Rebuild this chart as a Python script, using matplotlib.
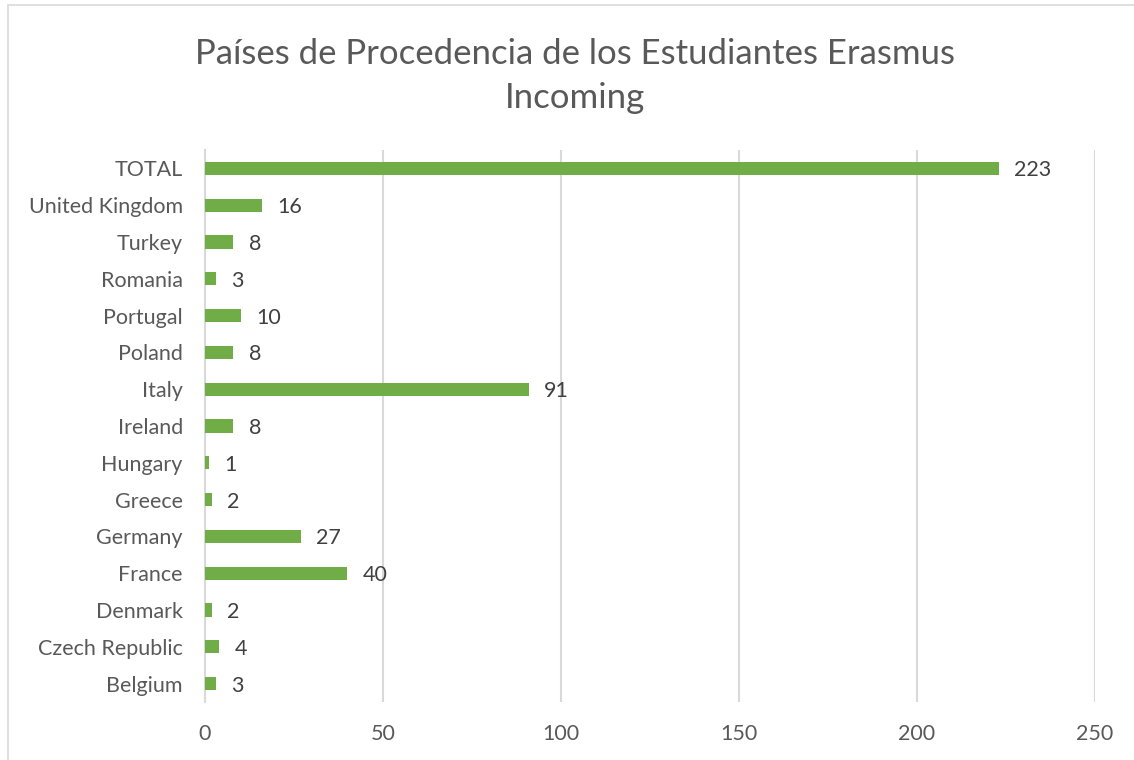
import matplotlib.pyplot as plt
from matplotlib.patches import Rectangle

# Data
countries = ['Belgium', 'Czech Republic', 'Denmark', 'France', 'Germany', 'Greece',
             'Hungary', 'Ireland', 'Italy', 'Poland', 'Portugal', 'Romania',
             'Turkey', 'United Kingdom', 'TOTAL']
students = [3, 4, 2, 40, 27, 2, 1, 8, 91, 8, 10, 3, 8, 16, 223]
xticks = [0, 50, 100, 150, 200, 250]

plt.rcParams['font.family'] = ['Lato', 'DejaVu Sans']

fig = plt.figure(figsize=(11.34, 7.6), dpi=100)
ax = fig.add_axes([205/1134, 1 - 702/760, 890/1134, 552/760])

ypos = range(len(countries))
ax.barh(ypos, students, height=0.36, color='#70AD47', zorder=3)
for y, v in zip(ypos, students):
    ax.annotate(str(v), (v, y), xytext=(11, -1.5), textcoords='offset points',
                va='center', ha='left', fontsize=15.5, color='#404040')

ax.set_xlim(0, 250)
ax.set_ylim(-0.5, len(countries) - 0.5)
ax.set_yticks(list(ypos))
ax.set_yticklabels(countries)
ax.set_xticks(xticks)
ax.tick_params(axis='both', length=0, labelsize=15.5, labelcolor='#595959')
ax.tick_params(axis='y', pad=16)
ax.tick_params(axis='x', pad=16)
ax.grid(axis='x', color='#d9d9d9', linewidth=1.5, zorder=0)
for s in ['top', 'right', 'bottom']:
    ax.spines[s].set_visible(False)
ax.spines['left'].set_color('#d9d9d9')
ax.spines['left'].set_linewidth(1.5)

fig.text(575/1134, 1 - 76/760, 'Países de Procedencia de los Estudiantes Erasmus\nIncoming',
         ha='center', va='center', fontsize=25, color='#595959', linespacing=1.5)

# outer chart border
fig.patches.append(Rectangle((8/1134, -0.05), 1.1, 1 - 5/760 + 0.05, transform=fig.transFigure,
                             fill=False, edgecolor='#d9d9d9', linewidth=1.2))

fig.savefig('out.png', dpi=100)
